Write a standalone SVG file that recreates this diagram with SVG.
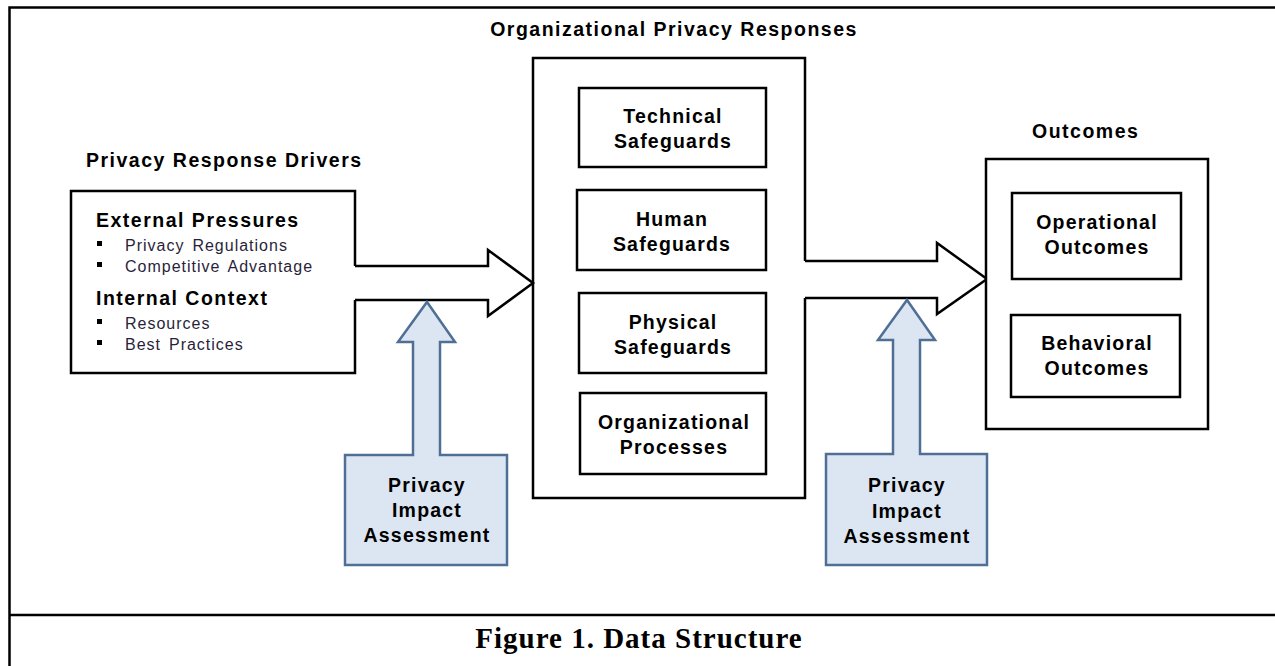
<svg xmlns="http://www.w3.org/2000/svg" width="1275" height="666" viewBox="0 0 1275 666">
<style>
.ln{fill:none;stroke:#000;stroke-width:2.5;stroke-linejoin:miter}
.bx{fill:#fff;stroke:#000;stroke-width:2.5}
.pia{fill:#dce6f2;stroke:#4f6f95;stroke-width:2.5}
.h{font-family:"Liberation Sans",Arial,sans-serif;font-weight:bold;font-size:19.5px;letter-spacing:1.5px;fill:#000}
.t{font-family:"Liberation Sans",Arial,sans-serif;font-weight:bold;font-size:19.5px;letter-spacing:1.2px;fill:#000;text-anchor:middle}
.b{font-family:"Liberation Sans",Arial,sans-serif;font-size:16px;fill:#2a1f3a;letter-spacing:1px;word-spacing:2.5px}
.cap{font-family:"Liberation Serif","Times New Roman",serif;font-weight:bold;font-size:29px;letter-spacing:1px;fill:#000;text-anchor:middle}
</style>
<rect width="1275" height="666" fill="#fff"/>
<g id="frame">
<path class="ln" d="M9.5 666 V7.5 H1275 M9.5 615 H1275" stroke-width="2"/>
</g>
<g id="connectors">
<path class="ln" fill="#fff" d="M355 266 H488 V250 L533 283 L488 316 V300 H355"/>
<path class="ln" fill="#fff" d="M805 261 H937 V243 L987 279 L937 314 V298 H805"/>
</g>
<g id="drivers">
<path class="ln" fill="#fff" d="M355 266 V191 H71 V373 H355 V300"/>
<text class="h" x="86" y="167">Privacy Response Drivers</text>
<text class="h" x="96" y="227" font-size="20">External Pressures</text>
<rect x="97" y="241" width="5" height="5"/>
<text class="b" x="125" y="251">Privacy Regulations</text>
<rect x="97" y="262" width="5" height="5"/>
<text class="b" x="125" y="272">Competitive Advantage</text>
<text class="h" x="96" y="305" font-size="20">Internal Context</text>
<rect x="97" y="319" width="5" height="5"/>
<text class="b" x="125" y="329" fill="#333">Resources</text>
<rect x="97" y="340" width="5" height="5"/>
<text class="b" x="125" y="350" fill="#333">Best Practices</text>
</g>
<g id="responses">
<path class="ln" d="M805 261 V58 H533 V498 H805 V298"/>
<text class="h" x="674" y="36" text-anchor="middle" letter-spacing="1.3">Organizational Privacy Responses</text>
</g>
<g id="technical">
<rect class="bx" x="579" y="88" width="187" height="79"/>
<text class="t" x="673" y="123">Technical</text>
<text class="t" x="673" y="148">Safeguards</text>
</g>
<g id="human">
<rect class="bx" x="577" y="190" width="189" height="80"/>
<text class="t" x="672" y="226">Human</text>
<text class="t" x="672" y="251">Safeguards</text>
</g>
<g id="physical">
<rect class="bx" x="579" y="293" width="187" height="80"/>
<text class="t" x="673" y="329">Physical</text>
<text class="t" x="673" y="354">Safeguards</text>
</g>
<g id="processes">
<rect class="bx" x="580" y="393" width="186" height="81"/>
<text class="t" x="674" y="429">Organizational</text>
<text class="t" x="674" y="454">Processes</text>
</g>
<g id="outcomes">
<rect class="bx" x="986" y="159" width="222" height="270"/>
<text class="h" x="1032" y="138">Outcomes</text>
</g>
<g id="operational">
<rect class="bx" x="1012" y="193" width="169" height="86"/>
<text class="t" x="1097" y="229">Operational</text>
<text class="t" x="1097" y="254">Outcomes</text>
</g>
<g id="behavioral">
<rect class="bx" x="1011" y="315" width="169" height="82"/>
<text class="t" x="1097" y="350">Behavioral</text>
<text class="t" x="1097" y="375">Outcomes</text>
</g>
<g id="pia1">
<path class="pia" d="M427 302 L455 342 H440 V455 H507 V565 H345 V455 H413 V342 H398 Z"/>
<text class="t" x="427" y="492">Privacy</text>
<text class="t" x="427" y="517">Impact</text>
<text class="t" x="427" y="542">Assessment</text>
</g>
<g id="pia2">
<path class="pia" d="M907 300 L935 340 H920 V454 H987 V565 H826 V454 H893 V340 H878 Z"/>
<text class="t" x="907" y="492">Privacy</text>
<text class="t" x="907" y="518">Impact</text>
<text class="t" x="907" y="543">Assessment</text>
</g>
<text class="cap" x="639" y="648">Figure 1. Data Structure</text>
</svg>
